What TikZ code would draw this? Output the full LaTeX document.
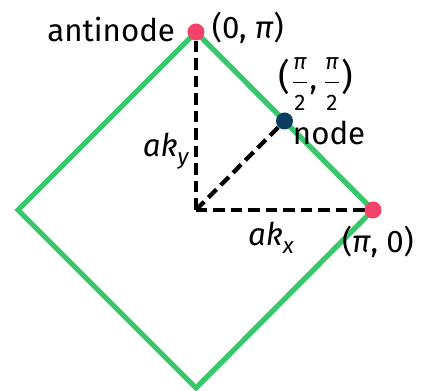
\documentclass[tikz,border=0pt]{standalone}
\usepackage{amsmath}
\usepackage{fontspec}
\setmainfont{Fira Sans}
\usetikzlibrary{positioning}
\definecolor{edgegreen}{HTML}{38C86C}
\definecolor{dotpink}{HTML}{F5426A}
\definecolor{dotblue}{HTML}{0B3D5E}
\newcommand{\halfpi}{$\displaystyle\frac{\mbox{\small\itshape π}}{\mbox{\small 2}}$}
\tikzset{
  dot/.style={circle, fill=#1, inner sep=0pt, minimum size=6.8pt},
  guide/.style={line width=1.7pt, dash pattern=on 4.6pt off 2.4pt},
  lbl/.style={inner sep=1pt, font=\fontsize{12.5}{14}\selectfont}
}
\begin{document}
\begin{tikzpicture}[x=0.4pt, y=-0.4pt]
        % \draw[help lines] (0,0) grid (423,391);
        \useasboundingbox (0,0) rectangle (423,391);

        \coordinate (c) at (196,210);
        \coordinate (top) at (196,32);
        \coordinate (right) at (373,210);
        \coordinate (bottom) at (196,388);
        \coordinate (left) at (18,210);

        \draw[guide] (c) -- (top);
        \draw[guide] (c) -- (right);
        \draw[guide] (c) -- (284.5,121);

        \draw[edgegreen, line width=2.1pt, line join=miter] (top) -- (right) -- (bottom) -- (left) -- cycle;

        \node[dot=dotpink] (antinode) at (top) {};
        \node[dot=dotpink] (corner) at (right) {};
        \node[dot=dotblue] (mid) at (284.5,121) {};

        \node[lbl, anchor=east] (antitext) at (178,30) {antinode};
        \node[lbl, anchor=west] (toplabel) at (209,28) {(0, \textit{π})};
        \node[lbl] (midlabel) at (316,84) {{\Large(}\halfpi,\,\halfpi{\Large)}};
        \node[lbl, anchor=west] (nodetext) at (290,133) {node};
        \node[lbl] (kylabel) at (166,151) {\textit{ak}\raisebox{-0.5ex}{\small\textit{y}}};
        \node[lbl] (kxlabel) at (271,238) {\textit{ak}\raisebox{-0.5ex}{\small\textit{x}}};
        \node[lbl] (rightlabel) at (378,242) {(\textit{π}, 0)};
      \end{tikzpicture}
\end{document}
